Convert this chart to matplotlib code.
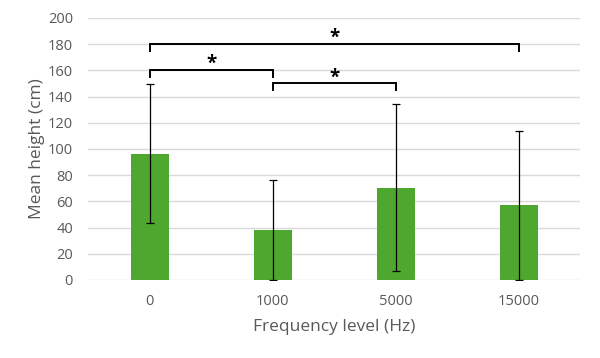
import matplotlib
matplotlib.use("Agg")
import numpy as np
from matplotlib import pyplot as plt

categories = ["0", "1000", "5000", "15000"]
means = [96.5, 38, 70.5, 57]
errors = [53, 38, 63.5, 57]
yticks = list(range(0, 201, 20))

# significance brackets: (left index, right index, height)
brackets = [(0, 1, 160), (1, 2, 150), (0, 3, 180)]

plt.rcParams['font.family'] = ['Open Sans', 'DejaVu Sans']
grey = '#595959'

fig = plt.figure(figsize=(6, 3.58), dpi=100)
ax = fig.add_axes([0.147, 0.218, 0.82, 0.732])

x = np.arange(len(categories))
ax.bar(x, means, width=0.31, color='#4ea72e', zorder=2)
ax.errorbar(x, means, yerr=errors, fmt='none', ecolor='black', elinewidth=0.9,
            capsize=3, capthick=0.9, zorder=3)

for i, j, h in brackets:
    ax.plot([i, i, j, j], [h - 5, h, h, h - 5], color='black', lw=1.4,
            solid_joinstyle='miter', zorder=4, clip_on=False)
    ax.text((i + j) / 2, h - 3, '*', ha='center', va='bottom', fontsize=13.5,
            fontweight='bold', color='black')

ax.set_xlim(-0.5, len(categories) - 0.5)
ax.set_ylim(0, 200)
ax.set_yticks(yticks)
ax.set_xticks(x)
ax.set_xticklabels(categories)
ax.yaxis.grid(True, color='#d9d9d9', lw=1, zorder=0)
for s in ax.spines.values():
    s.set_visible(False)
ax.tick_params(length=0, colors=grey, labelsize=10.5)
ax.tick_params(axis='y', pad=11)
ax.tick_params(axis='x', pad=10)
ax.set_ylabel('Mean height (cm)', color=grey, fontsize=12.5, labelpad=2)
ax.set_xlabel('Frequency level (Hz)', color=grey, fontsize=12.5, labelpad=7)

fig.savefig('out.png', dpi=100)
